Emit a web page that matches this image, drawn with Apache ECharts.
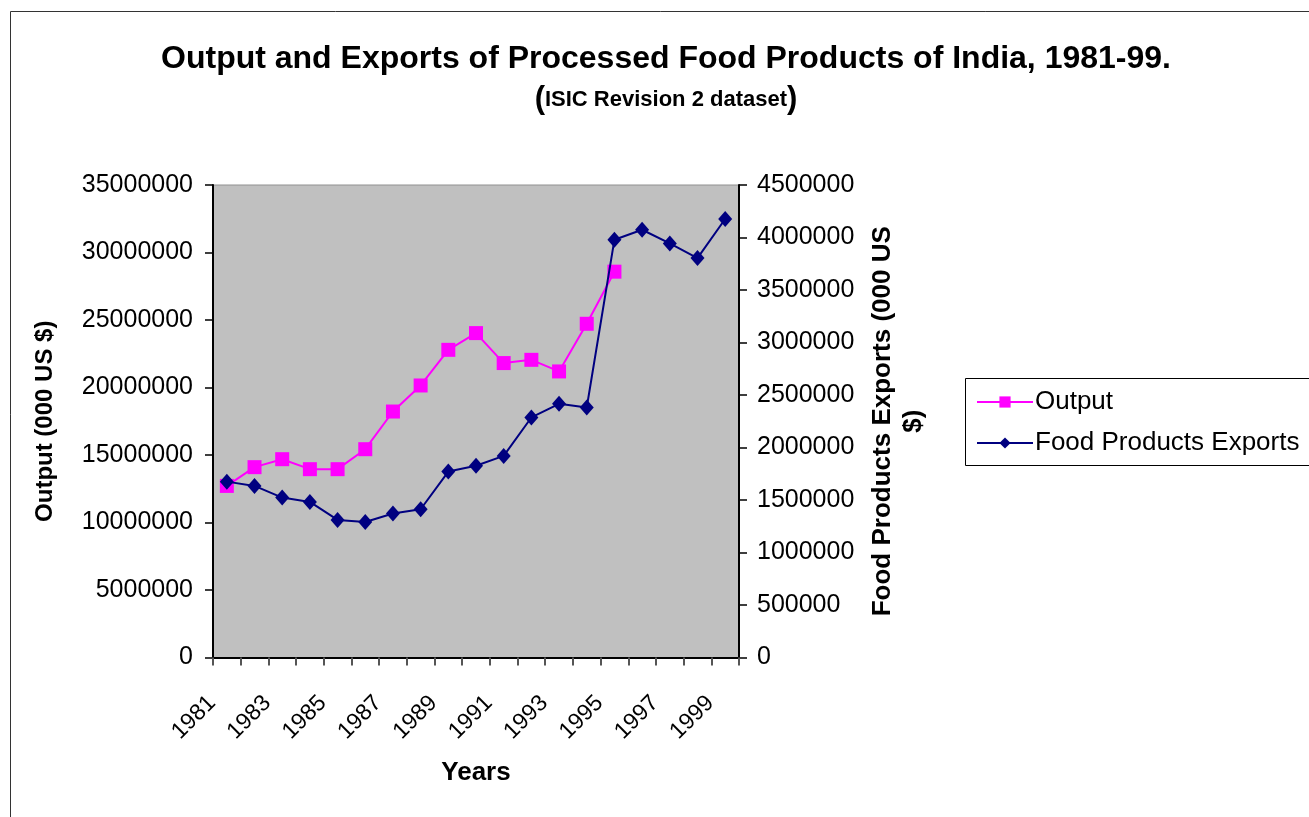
<!DOCTYPE html>
<html>
<head>
<meta charset="utf-8">
<script src="https://cdn.jsdelivr.net/npm/echarts@6/dist/echarts.min.js"></script>
<style>
html,body{margin:0;padding:0;background:#fff;}
#chart{width:1309px;height:817px;}
</style>
</head>
<body>
<div id="chart"></div>
<script>
const years = ['1981','1982','1983','1984','1985','1986','1987','1988','1989','1990','1991','1992','1993','1994','1995','1996','1997','1998','1999'];
const output = [12710000,14100000,14690000,13950000,13950000,15430000,18220000,20150000,22790000,24030000,21810000,22050000,21190000,24720000,28580000,null,null,null,null];
const exportsData = [1675000,1634000,1523000,1482000,1310000,1291000,1371000,1412000,1771000,1826000,1920000,2286000,2416000,2381000,3979000,4074000,3944000,3804000,4176000];
const leftTicks = {min:0, max:35000000, interval:5000000};
const rightTicks = {min:0, max:4500000, interval:500000};

const FONT = '"Liberation Sans", Arial, sans-serif';
const chart = echarts.init(document.getElementById('chart'), null, {renderer:'canvas'});
const plain = v => String(v);
chart.setOption({
  backgroundColor:'#ffffff',
  animation:false,
  textStyle:{fontFamily:FONT, color:'#000'},
  title:{
    text:'Output and Exports of Processed Food Products of India, 1981-99.',
    subtext:'{p|(}{s|ISIC Revision 2 dataset}{p|)}',
    left:661, textAlign:'center', top:38, itemGap:9,
    textStyle:{fontFamily:FONT, fontWeight:'bold', fontSize:32, color:'#000'},
    subtextStyle:{
      color:'#000',
      rich:{
        p:{fontFamily:FONT, fontWeight:'bold', fontSize:31, color:'#000'},
        s:{fontFamily:FONT, fontWeight:'bold', fontSize:22, color:'#000'}
      }
    }
  },
  graphic:[
    {type:'rect', shape:{x:10.5, y:11.5, width:1320, height:830}, style:{fill:'none', stroke:'#333', lineWidth:1}, z:-1, silent:true},
    {type:'rect', shape:{x:965.5, y:378.5, width:360, height:87}, style:{fill:'#fff', stroke:'#000', lineWidth:1}, z:0, silent:true}
  ],
  legend:{
    left:971, top:384, orient:'vertical', itemGap:15,
    itemWidth:56, itemHeight:14,
    textStyle:{fontFamily:FONT, fontSize:26, color:'#000', padding:[0,0,0,-3]},
    data:['Output','Food Products Exports'],
    z:5
  },
  grid:{left:213, top:185, width:526, height:472.5, show:true, backgroundColor:'#c0c0c0', borderColor:'#909090', borderWidth:1, containLabel:false},
  xAxis:{
    type:'category', data:years, boundaryGap:true,
    name:'Years', nameLocation:'middle', nameGap:102,
    nameTextStyle:{fontFamily:FONT, fontWeight:'bold', fontSize:26, color:'#000'},
    axisLine:{lineStyle:{color:'#000', width:2}},
    axisTick:{show:true, interval:0, length:8, lineStyle:{color:'#555', width:2}},
    axisLabel:{interval:1, rotate:45, fontFamily:FONT, fontSize:23, color:'#000', margin:27, padding:[0,21,0,0]},
    splitLine:{show:false}
  },
  yAxis:[
    {
      type:'value', position:'left', min:leftTicks.min, max:leftTicks.max, interval:leftTicks.interval,
      name:'Output (000 US $)', nameLocation:'middle', nameGap:156, nameRotate:90,
      nameTextStyle:{fontFamily:FONT, fontWeight:'bold', fontSize:24, color:'#000'},
      axisLine:{show:true, lineStyle:{color:'#000', width:2}},
      axisTick:{show:true, length:8, lineStyle:{color:'#000', width:1.5}},
      axisLabel:{fontFamily:FONT, fontSize:25, color:'#000', margin:20, formatter:plain},
      splitLine:{show:false}
    },
    {
      type:'value', position:'right', min:rightTicks.min, max:rightTicks.max, interval:rightTicks.interval,
      name:'Food Products Exports (000 US\n$)', nameLocation:'middle', nameGap:128, nameRotate:90,
      nameTextStyle:{fontFamily:FONT, fontWeight:'bold', fontSize:26, color:'#000', lineHeight:31, align:'center'},
      axisLine:{show:true, lineStyle:{color:'#000', width:2}},
      axisTick:{show:true, length:8, lineStyle:{color:'#000', width:1.5}},
      axisLabel:{fontFamily:FONT, fontSize:25, color:'#000', margin:18, formatter:plain},
      splitLine:{show:false}
    }
  ],
  series:[
    {
      name:'Output', type:'line', yAxisIndex:0, data:output,
      symbol:'rect', symbolSize:14,
      lineStyle:{color:'#ff00ff', width:2},
      itemStyle:{color:'#ff00ff'},
      connectNulls:false, z:3
    },
    {
      name:'Food Products Exports', type:'line', yAxisIndex:1, data:exportsData,
      symbol:'diamond', symbolSize:[14,16],
      lineStyle:{color:'#000080', width:2},
      itemStyle:{color:'#000080'},
      z:4
    }
  ]
});
</script>
</body>
</html>
